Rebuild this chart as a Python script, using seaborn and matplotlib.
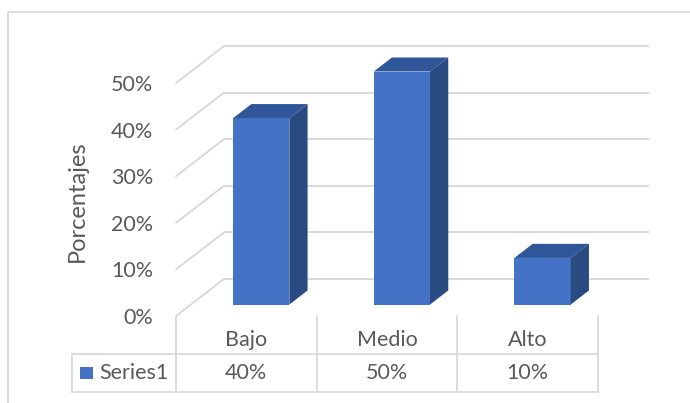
import matplotlib
matplotlib.use("Agg")
import matplotlib.pyplot as plt
from matplotlib.patches import Rectangle
from matplotlib.lines import Line2D
import seaborn as sns
import pandas as pd

# Chart data
categories = ["Bajo", "Medio", "Alto"]
values = [0.40, 0.50, 0.10]
tick_values = [0.0, 0.1, 0.2, 0.3, 0.4, 0.5]
tick_labels = ["0%", "10%", "20%", "30%", "40%", "50%"]
series_name = "Series1"
axis_title = "Porcentajes"

sns.set_theme(style="white")
plt.rcParams["font.family"] = ["Lato", "DejaVu Sans"]

TEXT = "#595959"
GRID = "#D9D9D9"
FRONT = "#4472C4"
TOP = "#30569A"
SIDE = "#2A4A82"
FS = 15.5
FS_TITLE = 17

W, H = 690, 403
fig = plt.figure(figsize=(W / 100, H / 100), dpi=100)
ax = fig.add_axes([0, 0, 1, 1])

# pixel geometry of the front plane
X0, CAT_W = 176.0, 140.67       # left edge of first category, width of a category
Y0, UNIT = 316.0, 466.0         # pixel row of 0 %, pixels per 100 %
DX = 48.0 / CAT_W               # depth offset (x, category units)
DV = 37.0 / UNIT                # depth offset (y, value units)

def px_x(p):
    return -0.5 + (p - X0) / CAT_W

def px_y(p):
    return (Y0 - p) / UNIT

df = pd.DataFrame({"cat": categories, "val": values})
sns.barplot(data=df, x="cat", y="val", order=categories, color=FRONT,
            saturation=1, width=0.4, linewidth=0, ax=ax, zorder=3)
ax.set_xlim(px_x(0), px_x(W))
ax.set_ylim(px_y(H), px_y(0))

# back wall and side wall gridlines
x_left, x_right = -0.5, len(categories) - 0.5
for v in tick_values:
    ax.plot([x_left + DX, x_right + DX + 0.02], [v + DV, v + DV], color=GRID,
            lw=1.4, zorder=1, solid_capstyle="butt")
    ax.plot([x_left, x_left + DX], [v, v + DV], color=GRID, lw=1.4, zorder=1)

# move bars into the middle of the depth and add top / side faces
d0, depth = 0.31, 0.38
for patch in ax.patches:
    x = patch.get_x() + DX * d0
    h = patch.get_height()
    w = patch.get_width()
    b = DV * d0
    patch.set_x(x)
    patch.set_y(b)
    ox, oy = DX * depth, DV * depth
    ax.fill([x, x + w, x + w + ox, x + ox], [b + h, b + h, b + h + oy, b + h + oy],
            color=TOP, lw=0, zorder=3)
    ax.fill([x + w, x + w + ox, x + w + ox, x + w], [b, b + oy, b + h + oy, b + h],
            color=SIDE, lw=0, zorder=3)

# value axis labels
for v, lab in zip(tick_values, tick_labels):
    ax.text(px_x(153), v - 2 / UNIT, lab, ha="right", va="center",
            fontsize=FS, color=TEXT)
ax.text(px_x(77), px_y(201), axis_title, rotation=90, ha="center",
        va="center", fontsize=FS_TITLE, color=TEXT)

# data table
row1, row2 = px_y(353.5), px_y(391.5)
left_edge = px_x(72)
for yy in (row1, row2):
    ax.plot([left_edge, x_right], [yy, yy], color=GRID, lw=1.3, zorder=1)
for i in range(len(categories) + 1):
    xx = -0.5 + i
    ax.plot([xx, xx], [0, row2], color=GRID, lw=1.3, zorder=1)
ax.plot([left_edge, left_edge], [row1, row2], color=GRID, lw=1.3, zorder=1)

for i, (c, v) in enumerate(zip(categories, values)):
    ax.text(i, px_y(340), c, ha="center", va="center", fontsize=FS, color=TEXT)
    ax.text(i, px_y(373), f"{v:.0%}", ha="center", va="center",
            fontsize=FS, color=TEXT)

ax.add_patch(Rectangle((px_x(80), px_y(379)), 13 / CAT_W, 12 / UNIT,
                       color=FRONT, lw=0))
ax.text(px_x(99), px_y(373), series_name, ha="left", va="center",
        fontsize=FS, color=TEXT)

ax.axis("off")

# chart area border
fig.add_artist(Line2D([7.5 / W, 1], [1 - 12 / H, 1 - 12 / H], color=GRID, lw=1.3))
fig.add_artist(Line2D([7.5 / W, 7.5 / W], [0, 1 - 12 / H], color=GRID, lw=1.3))

fig.savefig("out.png", dpi=100)
